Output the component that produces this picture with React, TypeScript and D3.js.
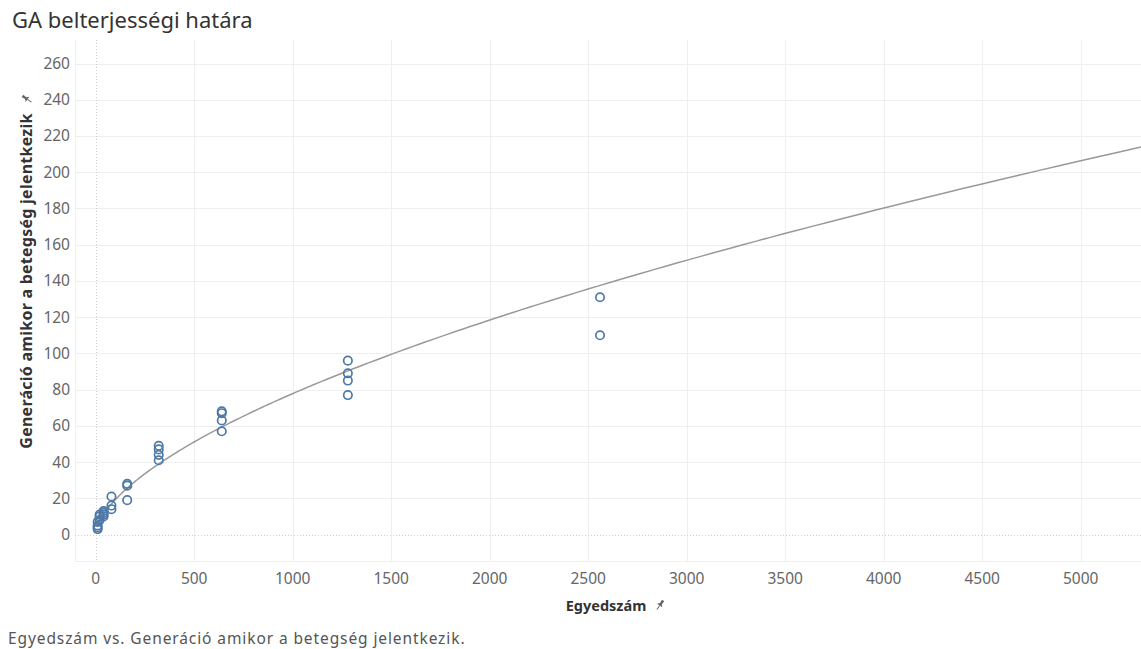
import React from 'react';
import * as d3 from 'd3';

// Egyedszám (x) and Generáció amikor a betegség jelentkezik (y)
const egyedszam = [10, 10, 10, 10, 20, 20, 20, 40, 40, 40, 40, 80, 80, 80, 160, 160, 160, 320, 320, 320, 320, 640, 640, 640, 640, 1280, 1280, 1280, 1280, 2560, 2560];
const generacio = [3, 4, 5, 7, 8, 10, 11, 10, 11, 12, 13, 14, 16, 21, 19, 27, 28, 41, 44, 47, 49, 57, 63, 67, 68, 77, 85, 89, 96, 110, 131];
const xTicks = [0, 500, 1000, 1500, 2000, 2500, 3000, 3500, 4000, 4500, 5000];
const yTicks = [0, 20, 40, 60, 80, 100, 120, 140, 160, 180, 200, 220, 240, 260];

// power trend model shown in the view (y = a * x^b), coefficients
const trendA = 1.183;
const trendB = 0.606;

const title = 'GA belterjességi határa';
const xTitle = 'Egyedszám';
const yTitle = 'Generáció amikor a betegség jelentkezik';
const caption = 'Egyedszám vs. Generáció amikor a betegség jelentkezik.';

const W = 1141;
const H = 649;
const plot = { left: 75, right: 1141, top: 40, bottom: 561 };
const font = '"Noto Sans", "Open Sans", sans-serif';

// pushpin glyph next to the axis titles
const Pin = ({ x, y, rot }: { x: number; y: number; rot: number }) => (
  <g transform={`translate(${x},${y}) rotate(${rot})`} fill="#666">
    <path d="M-1.4,-5.5 L1.4,-5.5 L1.1,-1.6 L3.2,0.6 L-3.2,0.6 L-1.1,-1.6 Z" />
    <line x1={0} y1={0.6} x2={0} y2={5.5} stroke="#666" strokeWidth={1} />
  </g>
);

export default function App() {
  const x = d3.scaleLinear().domain([-105, 5306]).range([plot.left, plot.right]);
  const y = d3.scaleLinear().domain([-14.6, 273]).range([plot.bottom, plot.top]);

  const x0 = d3.min(egyedszam) as number;
  const x1 = x.domain()[1];
  const samples = d3.range(0, 301).map((i) => x0 * Math.pow(x1 / x0, i / 300));
  const trend = d3.line<number>().x((d) => x(d)).y((d) => y(trendA * Math.pow(d, trendB)))(samples) || '';

  return (
    <svg width={W} height={H} style={{ position: 'absolute', left: 0, top: 0, background: '#fff' }} fontFamily={font}>
      <text x={12} y={28} fontSize={22} fill="#333">{title}</text>

      {/* grid */}
      <g stroke="#efefef" strokeWidth={1}>
        {yTicks.filter((t) => t !== 0).map((t) => (
          <line key={'gy' + t} x1={plot.left} x2={plot.right} y1={Math.round(y(t)) + 0.5} y2={Math.round(y(t)) + 0.5} />
        ))}
        {xTicks.filter((t) => t !== 0).map((t) => (
          <line key={'gx' + t} x1={Math.round(x(t)) + 0.5} x2={Math.round(x(t)) + 0.5} y1={plot.top} y2={plot.bottom} />
        ))}
        <line x1={plot.left + 0.5} x2={plot.left + 0.5} y1={plot.top} y2={plot.bottom} />
        <line x1={plot.left} x2={plot.right} y1={plot.bottom + 0.5} y2={plot.bottom + 0.5} />
      </g>
      <g stroke="#cfcfcf" strokeWidth={1} strokeDasharray="1,2">
        <line x1={plot.left} x2={plot.right} y1={Math.round(y(0)) + 0.5} y2={Math.round(y(0)) + 0.5} />
        <line x1={Math.round(x(0)) + 0.5} x2={Math.round(x(0)) + 0.5} y1={plot.top} y2={plot.bottom} />
      </g>

      {/* axes labels */}
      <g fontSize={15.5} fill="#666">
        {yTicks.map((t) => (
          <text key={'ty' + t} x={70} y={y(t)} dy="0.35em" textAnchor="end">{t}</text>
        ))}
        {xTicks.map((t) => (
          <text key={'tx' + t} x={x(t)} y={584} textAnchor="middle">{t}</text>
        ))}
      </g>

      <text x={606} y={611} fontSize={14.5} fontWeight="bold" fill="#333" textAnchor="middle">{xTitle}</text>
      <Pin x={660} y={605} rot={35} />
      <g transform="translate(32,281) rotate(-90)">
        <text x={0} y={0} fontSize={16} letterSpacing={0.25} fontWeight="bold" fill="#333" textAnchor="middle">{yTitle}</text>
      </g>
      <Pin x={27} y={99} rot={-55} />

      {/* trend line */}
      <path d={trend} fill="none" stroke="#999" strokeWidth={1.5} />

      {/* points */}
      <g fill="none" stroke="#4e79a7" strokeWidth={1.7}>
        {egyedszam.map((v, i) => (
          <circle key={i} cx={x(v)} cy={y(generacio[i])} r={4.2} />
        ))}
      </g>

      <text x={8} y={644} fontSize={15.5} letterSpacing={0.9} fill="#555">{caption}</text>
    </svg>
  );
}
